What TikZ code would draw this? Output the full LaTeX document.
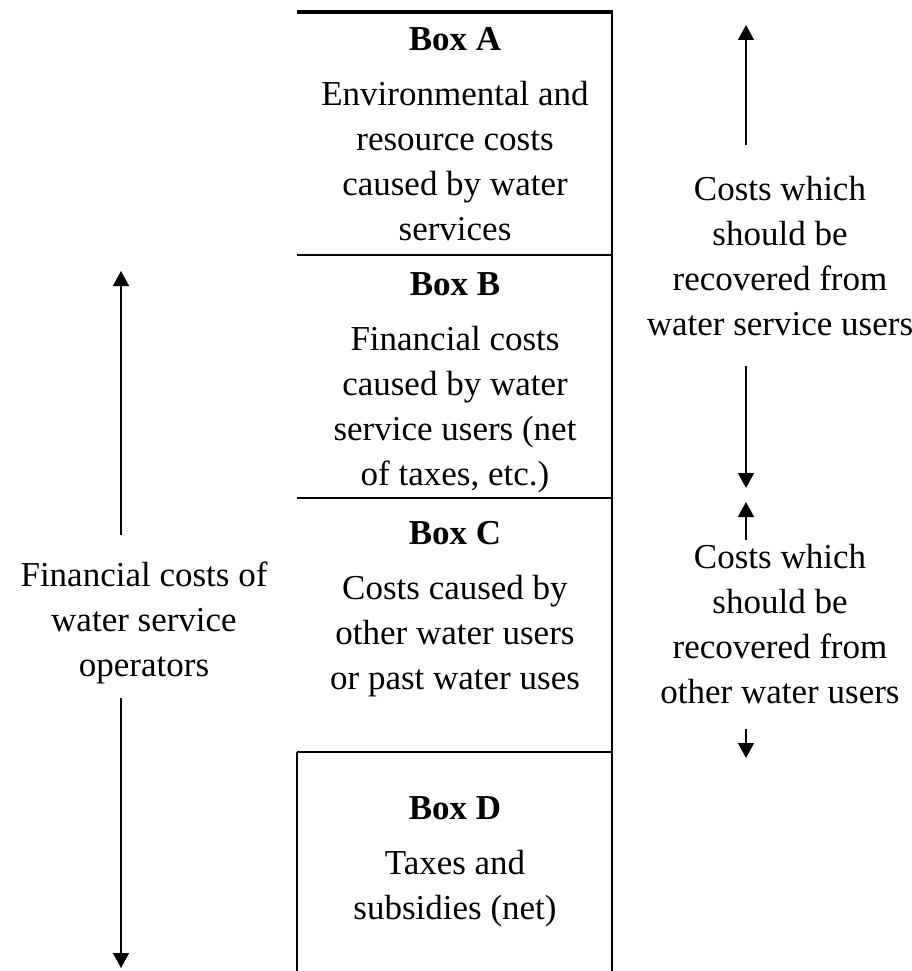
\documentclass[tikz,border=0pt]{standalone}
\usepackage{fontspec}
\setmainfont{Liberation Serif}
\usetikzlibrary{arrows.meta}

\newcommand{\boxTitle}[1]{\textbf{Box #1}\\[10pt]}

\begin{document}
\begin{tikzpicture}[x=1pt, y=-1pt,
    costtext/.style={align=center, inner sep=0pt, anchor=north, font=\fontsize{35}{45}\selectfont},
    rule/.style={line width=1.8pt},
    toprule/.style={line width=4.5pt},
    costarrow/.style={line width=1.5pt, -{Triangle[width=16pt, length=15pt]}}]
  \useasboundingbox (0,0) rectangle (912,971);

  % the column of boxes
  \draw[toprule] (297,12) -- (613,12);
  \draw[rule] (612,10) -- (612,971);
  \draw[rule] (297,255) -- (612,255);
  \draw[rule] (297,498) -- (612,498);
  \draw[rule] (297,752) -- (612,752);
  \draw[rule] (297,752) -- (297,971);

  \node[costtext] (boxA) at (455,27) {\boxTitle{A}Environmental and\\resource costs\\caused by water\\services};
  \node[costtext] (boxB) at (455,272) {\boxTitle{B}Financial costs\\caused by water\\service users (net\\of taxes, etc.)};
  \node[costtext] (boxC) at (455,521) {\boxTitle{C}Costs caused by\\other water users\\or past water uses};
  \node[costtext] (boxD) at (455,796) {\boxTitle{D}Taxes and\\subsidies (net)};

  % side labels
  \node[costtext] (opcost) at (144,562) {Financial costs of\\water service\\operators};
  \node[costtext] (usercost) at (780,176) {Costs which\\should be\\recovered from\\water service users};
  \node[costtext] (othercost) at (780,544) {Costs which\\should be\\recovered from\\other water users};

  \coordinate (opTop) at (121,271);
  \coordinate (opBot) at (121,968);
  \coordinate (userTop) at (746,25);
  \coordinate (userBot) at (746,488);
  \coordinate (otherTop) at (746,502);
  \coordinate (otherBot) at (746,758);

  \draw[costarrow] ([yshift=27pt]opcost.north -| opTop) -- (opTop);
  \draw[costarrow] ([yshift=-13pt]opcost.south -| opBot) -- (opBot);
  \draw[costarrow] ([yshift=31pt]usercost.north -| userTop) -- (userTop);
  \draw[costarrow] ([yshift=-30pt]usercost.south -| userBot) -- (userBot);
  \draw[costarrow] ([yshift=4pt]othercost.north -| otherTop) -- (otherTop);
  \draw[costarrow] ([yshift=-25pt]othercost.south -| otherBot) -- (otherBot);
\end{tikzpicture}
\end{document}
